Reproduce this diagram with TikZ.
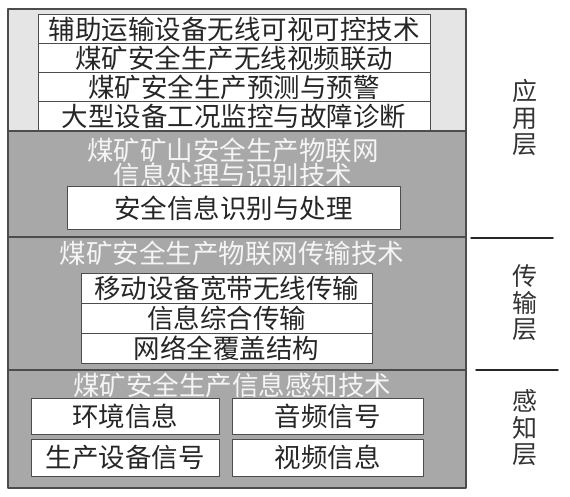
\documentclass[tikz,border=0pt]{standalone}
\usepackage{fontspec}
\newfontfamily\cjk{Noto Sans CJK SC}
\begin{document}
\begin{tikzpicture}[x=1pt,y=-1pt,line join=round,line cap=round,font=\cjk\fontsize{26.5}{27}\selectfont,
	box/.style={draw=black!70,line width=1pt,fill=white,inner sep=0pt,text=black!85},
	ttl/.style={text=black!4,align=center,inner sep=0pt},
	side/.style={text=black!80,align=center,inner sep=0pt,font=\cjk\fontsize{25}{26.5}\selectfont}]
	\useasboundingbox (0,0) rectangle (570,497);
	\fill[black!10] (8,9) rectangle (466,131);
	\fill[black!34] (8,131) rectangle (466,488);
	\draw[black!70,line width=1.2pt] (8,9) rectangle (466,488);
	\draw[black!70,line width=1.2pt] (8,131)--(466,131) (8,237)--(466,237) (8,370)--(466,370);
	\foreach \t [count=\i] in {辅助运输设备无线可视可控技术,煤矿安全生产无线视频联动,煤矿安全生产预测与预警,大型设备工况监控与故障诊断}
		\node[box,minimum width=392pt,minimum height=29pt] (app\i) at (234,{29*\i+0.5}) {\t};
	\node[ttl] (proc) at (233,162.5) {煤矿矿山安全生产物联网\\[-2pt]信息处理与识别技术};
	\node[box,minimum width=333pt,minimum height=42pt] (ident) at (233.5,208) {安全信息识别与处理};
	\node[ttl] (trans) at (232,253) {煤矿安全生产物联网传输技术};
	\foreach \t [count=\i] in {移动设备宽带无线传输,信息综合传输,网络全覆盖结构}
		\node[box,minimum width=291pt,minimum height=30.3pt] (tr\i) at (226.5,{273+30.3*\i-15.15}) {\t};
	\node[ttl] (sense) at (232,385) {煤矿安全生产信息感知技术};
	\node[box,minimum width=188pt,minimum height=36pt] (env) at (125,416) {环境信息};
	\node[box,minimum width=191pt,minimum height=36pt] (audio) at (327.5,416) {音频信号};
	\node[box,minimum width=188pt,minimum height=37pt] (equip) at (125,457.5) {生产设备信号};
	\node[box,minimum width=191pt,minimum height=37pt] (video) at (327.5,457.5) {视频信息};
	\node[side] (lapp) at (525,118) {应\\用\\层};
	\node[side] (ltrans) at (525,303) {传\\输\\层};
	\node[side] (lsense) at (525,428) {感\\知\\层};
	\draw[black!85,line width=1.5pt] (471,238)--(553,238) (476,370)--(558,370);
\end{tikzpicture}
\end{document}
